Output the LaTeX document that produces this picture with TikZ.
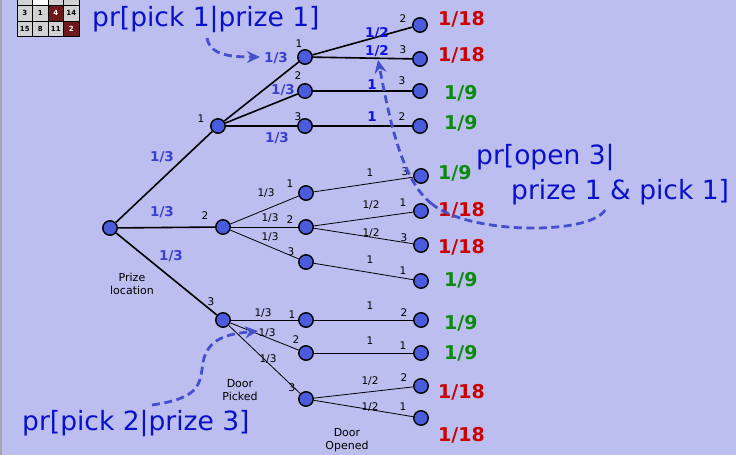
\documentclass[tikz,border=0pt]{standalone}
\usepackage{fontspec}
\setmainfont{DejaVu Sans}
\usetikzlibrary{arrows.meta}
\definecolor{bg}{HTML}{BBBEEE}
\definecolor{nodeblue}{HTML}{4A5BDC}
\definecolor{labblue}{HTML}{3A3FCC}
\definecolor{brblue}{HTML}{1010E0}
\definecolor{annblue}{HTML}{0A10C8}
\definecolor{dashblue}{HTML}{4450CC}
\definecolor{pred}{HTML}{CC0000}
\definecolor{pgreen}{HTML}{0A8A0A}
\definecolor{cellgray}{HTML}{D2D2D2}
\definecolor{cellred}{HTML}{6E1A1A}
\tikzset{
  dot/.style={circle, draw=black, line width=1.4pt, fill=nodeblue, minimum size=14.5pt, inner sep=0pt},
  small/.style={font=\fontsize{10.5}{11}\selectfont, text=black, inner sep=0pt},
  elab/.style={font=\bfseries\fontsize{13.5}{14}\selectfont, text=labblue, inner sep=0pt},
  elabb/.style={font=\bfseries\fontsize{13.5}{14}\selectfont, text=brblue, inner sep=0pt},
  probr/.style={font=\bfseries\fontsize{19}{20}\selectfont, text=pred, inner sep=0pt, anchor=west},
  probg/.style={font=\bfseries\fontsize{19}{20}\selectfont, text=pgreen, inner sep=0pt, anchor=west},
  ann/.style={font=\fontsize{26.5}{28}\selectfont, text=annblue, inner sep=0pt, anchor=west},
  capt/.style={font=\fontsize{11}{13.5}\selectfont, text=black, align=center, inner sep=0pt},
  thickedge/.style={line width=1.6pt},
  thinedge/.style={line width=0.8pt},
  dasharrow/.style={draw=dashblue, line width=2.8pt, dash pattern=on 8pt off 4.5pt, -{Stealth[length=13pt,width=12pt]}},
  dashline/.style={draw=dashblue, line width=2.8pt, dash pattern=on 8pt off 4.5pt},
  cell/.style={draw=black, line width=0.6pt, fill=cellgray, minimum width=15.5pt, minimum height=15.5pt, inner sep=0pt, font=\bfseries\fontsize{7}{8}\selectfont},
  dcell/.style={cell, fill=cellred, text=white},
  wcell/.style={cell, fill=white},
}
\begin{document}
\begin{tikzpicture}[x=1pt,y=-1pt]
\useasboundingbox (0,0) rectangle (736,455);
\fill[bg] (0,0) rectangle (736,455);
\fill[gray!70] (0,0) rectangle (1.5,455);

% puzzle grid (top-left, cut off)
\node[cell]  (g11) at (24.75,-2.25) {12};
\node[wcell] (g12) at (40.25,-2.25) {};
\node[cell]  (g13) at (55.75,-2.25) {10};
\node[cell]  (g14) at (71.25,-2.25) {9};
\node[cell]  (g21) at (24.75,13.25) {3};
\node[cell]  (g22) at (40.25,13.25) {1};
\node[dcell] (g23) at (55.75,13.25) {4};
\node[cell]  (g24) at (71.25,13.25) {14};
\node[cell]  (g31) at (24.75,28.75) {15};
\node[cell]  (g32) at (40.25,28.75) {8};
\node[cell]  (g33) at (55.75,28.75) {11};
\node[dcell] (g34) at (71.25,28.75) {2};

% tree nodes
\node[dot] (r) at (110,228) {};
\node[dot] (a1) at (218,126) {};
\node[dot] (a2) at (223,227) {};
\node[dot] (a3) at (223,320) {};
\node[dot] (b11) at (305,57) {};
\node[dot] (b12) at (305,91) {};
\node[dot] (b13) at (305,126) {};
\node[dot] (b21) at (306,193) {};
\node[dot] (b22) at (306,227) {};
\node[dot] (b23) at (306,262) {};
\node[dot] (b31) at (306,320) {};
\node[dot] (b32) at (306,353) {};
\node[dot] (b33) at (306,399) {};
\node[dot] (l11a) at (420,25) {};
\node[dot] (l11b) at (420,59) {};
\node[dot] (l12) at (420,91) {};
\node[dot] (l13) at (420,126) {};
\node[dot] (l21) at (421,176) {};
\node[dot] (l22a) at (421,211) {};
\node[dot] (l22b) at (421,245) {};
\node[dot] (l23) at (421,281) {};
\node[dot] (l31) at (421,320) {};
\node[dot] (l32) at (421,353) {};
\node[dot] (l33a) at (421,386) {};
\node[dot] (l33b) at (421,418) {};

% edges
\draw[thickedge] (r) -- (a1);
\draw[thickedge] (r) -- (a2);
\draw[thickedge] (r) -- (a3);
\draw[thickedge] (a1) -- (b11);
\draw[thickedge] (a1) -- (b12);
\draw[thickedge] (a1) -- (b13);
\draw[thickedge] (b11) -- (l11a);
\draw[thickedge] (b11) -- (l11b);
\draw[thickedge] (b12) -- (l12);
\draw[thickedge] (b13) -- (l13);
\draw[thinedge] (a2) -- (b21);
\draw[thinedge] (a2) -- (b22);
\draw[thinedge] (a2) -- (b23);
\draw[thinedge] (b21) -- (l21);
\draw[thinedge] (b22) -- (l22a);
\draw[thinedge] (b22) -- (l22b);
\draw[thinedge] (b23) -- (l23);
\draw[thinedge] (a3) -- (b31);
\draw[thinedge] (a3) -- (b32);
\draw[thinedge] (a3) -- (b33);
\draw[thinedge] (b31) -- (l31);
\draw[thinedge] (b32) -- (l32);
\draw[thinedge] (b33) -- (l33a);
\draw[thinedge] (b33) -- (l33b);

% root edge labels
\node[elab] (e1) at (162,157) {1/3};
\node[elab] (e2) at (162,212) {1/3};
\node[elab] (e3) at (171,256) {1/3};
% branch 1 labels
\node[elab] (e11) at (276,58) {1/3};
\node[elab] (e12) at (283,90) {1/3};
\node[elab] (e13) at (277,138) {1/3};
\node[elabb] (f11a) at (377,33) {1/2};
\node[elabb] (f11b) at (377,51) {1/2};
\node[elabb] (f12) at (372,85) {1};
\node[elabb] (f13) at (372,117) {1};
\node[small] (n1) at (201,119) {1};
\node[small] (n11) at (299,44) {1};
\node[small] (n12) at (298,76) {2};
\node[small] (n13) at (298,117) {3};
\node[small] (m11a) at (403,19) {2};
\node[small] (m11b) at (403,50) {3};
\node[small] (m12) at (402,81) {3};
\node[small] (m13) at (402,117) {2};
% branch 2 labels
\node[small] (n2) at (205,216) {2};
\node[small] (e21) at (266,193) {1/3};
\node[small] (e22) at (270,218) {1/3};
\node[small] (e23) at (270,237) {1/3};
\node[small] (n21) at (290,184) {1};
\node[small] (n22) at (290,220) {2};
\node[small] (n23) at (291,252) {3};
\node[small] (f21) at (370,173) {1};
\node[small] (f22a) at (371,205) {1/2};
\node[small] (f22b) at (371,233) {1/2};
\node[small] (f23) at (370,260) {1};
\node[small] (m21) at (405,172) {3};
\node[small] (m22a) at (403,203) {1};
\node[small] (m22b) at (404,238) {3};
\node[small] (m23) at (403,271) {1};
% branch 3 labels
\node[small] (n3) at (211,302) {3};
\node[small] (e31) at (263,313) {1/3};
\node[small] (e32) at (267,333) {1/3};
\node[small] (e33) at (268,359) {1/3};
\node[small] (n31) at (292,315) {1};
\node[small] (n32) at (296,340) {2};
\node[small] (n33) at (292,388) {3};
\node[small] (f31) at (370,306) {1};
\node[small] (f32) at (370,341) {1};
\node[small] (f33a) at (370,381) {1/2};
\node[small] (f33b) at (370,407) {1/2};
\node[small] (m31) at (404,313) {2};
\node[small] (m32) at (403,346) {1};
\node[small] (m33a) at (404,378) {2};
\node[small] (m33b) at (403,407) {1};

% captions
\node[capt] (c1) at (132,284) {Prize\\location};
\node[capt] (c2) at (240,390) {Door\\Picked};
\node[capt] (c3) at (347,440) {Door\\Opened};

% leaf probabilities
\node[probr] (p1) at (438,19) {1/18};
\node[probr] (p2) at (438,55) {1/18};
\node[probg] (p3) at (444,93) {1/9};
\node[probg] (p4) at (444,123) {1/9};
\node[probg] (p5) at (438,173) {1/9};
\node[probr] (p6) at (438,210) {1/18};
\node[probr] (p7) at (438,247) {1/18};
\node[probg] (p8) at (444,280) {1/9};
\node[probg] (p9) at (444,323) {1/9};
\node[probg] (p10) at (444,353) {1/9};
\node[probr] (p11) at (438,392) {1/18};
\node[probr] (p12) at (438,435) {1/18};

% annotations
\node[ann] (t1) at (92,19) {pr[pick 1|prize 1]};
\node[ann] (t2) at (476,157) {pr[open 3|};
\node[ann] (t3) at (511,192) {prize 1 \& pick 1]};
\node[ann] (t4) at (22,423) {pr[pick 2|prize 3]};

% dashed arrows
\coordinate (s1) at (207,38);
\coordinate (h1) at (260,57);
\draw[dasharrow] (s1) .. controls (210,55) and (230,57) .. (h1);
\coordinate (s2) at (605,210);
\coordinate (m2) at (432,204);
\coordinate (h2) at (378,60);
\draw[dashline] (s2) .. controls (590,235) and (470,235) .. (m2);
\draw[dasharrow] (m2) .. controls (400,180) and (388,110) .. (h2);
\coordinate (s3) at (152,405);
\coordinate (m3) at (203,362);
\coordinate (h3) at (258,331);
\draw[dashline] (s3) .. controls (200,398) and (200,385) .. (m3);
\draw[dasharrow] (m3) .. controls (208,338) and (228,334) .. (h3);
\end{tikzpicture}
\end{document}
